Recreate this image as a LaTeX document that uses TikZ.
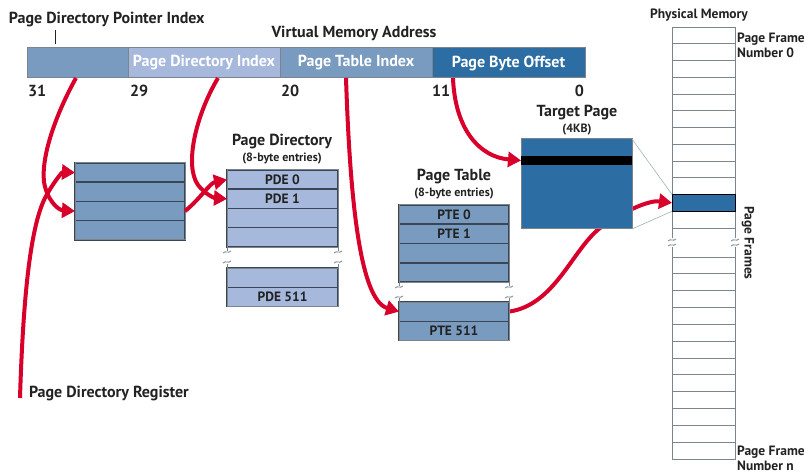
\documentclass[tikz,border=0pt]{standalone}
\usepackage{fontspec}
\setmainfont{PT Sans}
\usetikzlibrary{arrows.meta,calc,backgrounds}
\definecolor{midblue}{HTML}{7A9BC0}
\definecolor{lightblue}{HTML}{A6B8DB}
\definecolor{darkblue}{HTML}{2C6DA3}
\definecolor{redline}{HTML}{D8002B}
\definecolor{rowline}{HTML}{3A4656}
\definecolor{edgegray}{HTML}{7C848C}
\definecolor{txt}{HTML}{222222}
\definecolor{thin}{HTML}{9FB4B8}
\newcommand\brkmark[2]{%
  \draw[edgegray,line width=0.8pt] ({#1-4},{#2+1}) .. controls ({#1-1},{#2-2}) and ({#1+1},{#2+2}) .. ({#1+4},{#2-1});}
\begin{document}
\begin{tikzpicture}[x=1pt,y=-1pt,
  lbl/.style={font=\bfseries\fontsize{16}{18}\selectfont, text=txt, inner sep=0pt, outer sep=0pt},
  sublbl/.style={font=\bfseries\fontsize{12}{13}\selectfont, text=txt, inner sep=0pt},
  smlbl/.style={font=\bfseries\fontsize{13.5}{15}\selectfont, text=txt, inner sep=0pt},
  barlbl/.style={font=\bfseries\fontsize{16}{18}\selectfont, text=white},
  seg/.style={draw=edgegray, line width=1pt, inner sep=0pt, outer sep=0pt, minimum height=30pt},
  cell/.style={draw=rowline, line width=1.5pt, inner sep=0pt, outer sep=0pt, minimum height=19.25pt,
    font=\bfseries\fontsize{13.5}{15}\selectfont, text=txt},
  outline/.style={draw=edgegray, line width=1pt},
  pmline/.style={draw=edgegray, line width=0.9pt},
  redarrow/.style={draw=redline, line width=4pt, -{Triangle[length=13pt,width=15pt]}},
  thinline/.style={draw=thin, line width=0.6pt}]
\useasboundingbox (0,0) rectangle (804,476);
\begin{scope}[on background layer]
\fill[white] (0,0) rectangle (804,476);
\end{scope}

% ---- virtual address bar
\node[seg, fill=midblue, minimum width=101pt] (seg1) at (77.5,63) {};
\node[seg, fill=lightblue, minimum width=152pt, barlbl] (seg2) at (204,63) {Page Directory Index};
\node[seg, fill=midblue, minimum width=152pt, barlbl] (seg3) at (356,63) {Page Table Index};
\node[seg, fill=darkblue, minimum width=153pt, barlbl] (seg4) at (508.5,63) {Page Byte Offset};

\node[lbl, anchor=west] (pdpi) at (9,20) {Page Directory Pointer Index};
\node[lbl] (vma) at (354,33) {Virtual Memory Address};
\coordinate (tk) at (55,0);
\draw[txt, line width=0.8pt, shorten <=3pt, shorten >=4pt] (tk |- pdpi.south) -- (tk |- seg1.north);

\node[lbl, anchor=west] (n31) at (28,91) {31};
\node[lbl, anchor=west] (n29) at (130,91) {29};
\node[lbl, anchor=west] (n20) at (281,91) {20};
\node[lbl, anchor=west] (n11) at (432,91) {11};
\node[lbl, anchor=east] (n0) at (584,91) {0};

% ---- page directory pointer table
\foreach \i in {1,...,4}
  \node[cell, fill=midblue, minimum width=110pt] (pdpt\i) at (130,{163+19.25*(\i-0.5)}) {};
\draw[outline] (pdpt1.north west) rectangle (pdpt4.south east);

% ---- page directory
\node[lbl] (pdtitle) at (282,142) {Page Directory};
\node[sublbl] (pdsub) at (282,159) {(8-byte entries)};
\node[cell, fill=lightblue, minimum width=111pt] (pd0) at (282.5,179.625) {PDE 0};
\node[cell, fill=lightblue, minimum width=111pt] (pd1) at (282.5,198.875) {PDE 1};
\node[cell, fill=lightblue, minimum width=111pt] (pd2) at (282.5,218.125) {};
\node[cell, fill=lightblue, minimum width=111pt] (pd3) at (282.5,237.375) {};
\node[cell, fill=lightblue, minimum width=111pt] (pd510) at (282.5,277.625) {};
\node[cell, fill=lightblue, minimum width=111pt] (pd511) at (282.5,296.875) {PDE 511};
\draw[outline] (pd0.north west) rectangle (pd3.south east);
\draw[outline] (pd510.north west) rectangle (pd511.south east);
\draw[outline] (pd3.south west) -- ++(0,4) (pd3.south east) -- ++(0,4);
\draw[outline] (pd510.north west) -- ++(0,-4) (pd510.north east) -- ++(0,-4);
\brkmark{227}{252}\brkmark{227}{262}\brkmark{338}{252}\brkmark{338}{262}

% ---- page table
\node[lbl] (pttitle) at (454,177) {Page Table};
\node[sublbl] (ptsub) at (454,194) {(8-byte entries)};
\node[cell, fill=midblue, minimum width=110pt] (pt0) at (454,214.625) {PTE 0};
\node[cell, fill=midblue, minimum width=110pt] (pt1) at (454,233.875) {PTE 1};
\node[cell, fill=midblue, minimum width=110pt] (pt2) at (454,253.125) {};
\node[cell, fill=midblue, minimum width=110pt] (pt3) at (454,272.375) {};
\node[cell, fill=midblue, minimum width=110pt] (pt510) at (454,311.625) {};
\node[cell, fill=midblue, minimum width=110pt] (pt511) at (454,330.875) {PTE 511};
\draw[outline] (pt0.north west) rectangle (pt3.south east);
\draw[outline] (pt510.north west) rectangle (pt511.south east);
\draw[outline] (pt3.south west) -- ++(0,4) (pt3.south east) -- ++(0,4);
\draw[outline] (pt510.north west) -- ++(0,-4) (pt510.north east) -- ++(0,-4);
\brkmark{399}{287}\brkmark{399}{297}\brkmark{509}{287}\brkmark{509}{297}

% ---- physical memory
\node[smlbl] (pmtitle) at (699,15) {Physical Memory};
\draw[pmline] (672,238) -- (672,27) -- (735,27) -- (735,238);
\foreach \k in {1,...,12} \draw[pmline] (672,{27+16.75*\k}) -- (735,{27+16.75*\k});
\draw[pmline] (672,247) -- (672,459) -- (735,459) -- (735,247);
\foreach \k in {0,...,11} \draw[pmline] (672,{257+16.83*\k}) -- (735,{257+16.83*\k});
\brkmark{672}{240}\brkmark{672}{245}\brkmark{735}{240}\brkmark{735}{245}
\node[draw=black, line width=1pt, fill=darkblue, minimum width=63pt, minimum height=16.75pt, inner sep=0pt, outer sep=0pt] (frame) at (703.5,202.875) {};
\node[smlbl, anchor=west, align=left] (pf0) at (737,45) {Page Frame\\Number 0};
\node[smlbl, anchor=west, align=left] (pfn) at (737,458) {Page Frame\\Number n};
\node[smlbl, rotate=-90] (pfs) at (748,243) {Page Frames};

% ---- register label
\node[lbl, anchor=west] (pdr) at (29,394) {Page Directory Register};

% ---- target page
\node[lbl] (tptitle) at (577,113) {Target Page};
\node[sublbl] (tpsub) at (577,130) {(4KB)};
\node[draw=edgegray, line width=1pt, fill=darkblue, minimum width=111pt, minimum height=90pt, inner sep=0pt, outer sep=0pt] (tp) at (576.5,184) {};
\node[fill=black, minimum width=111pt, minimum height=9pt, inner sep=0pt, outer sep=0pt] (stripe) at (576.5,160.5) {};
\draw[thinline] (tp.north east) -- (frame.north west);
\draw[thinline] (tp.south east) -- (frame.south west);

% ---- red connectors
\draw[redarrow] ([shift={(-9,4)}]pdr.west) .. controls (23,300) and (30,228) .. (45,198) .. controls (53,183) and (62,172) .. (pdpt1.west);
\draw[redarrow] ([xshift=49pt]seg1.south west) .. controls (57,112) and (41,155) .. (44,182) .. controls (47,200) and (58,210) .. (pdpt3.west);
\draw[redarrow] (pdpt3.east) .. controls (200,199) and (210,183) .. (pd0.west);
\draw[redarrow] ([xshift=90pt]seg2.south west) .. controls (196,115) and (184,165) .. (198,185) .. controls (205,194) and (214,198) .. (pd1.west);
\draw[redarrow] ([xshift=66pt]seg3.south west) .. controls (350,200) and (360,300) .. (pt510.west);
\draw[redarrow] ([xshift=21pt]seg4.south west) .. controls (455,130) and (480,157) .. (stripe.west);
\begin{scope}[on background layer]
\draw[redarrow] (pt510.east) .. controls (555,305) and (572,250) .. (600,228) .. controls (625,210) and (650,200) .. (frame.west);
\end{scope}
\end{tikzpicture}
\end{document}
